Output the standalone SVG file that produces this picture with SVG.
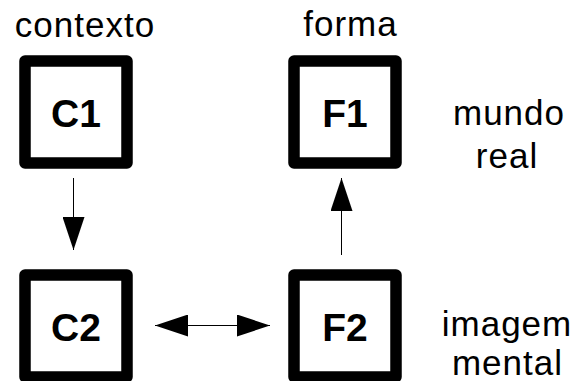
<svg xmlns="http://www.w3.org/2000/svg" width="577" height="381" viewBox="0 0 577 381">
<style>
.box{fill:#fff;stroke:#000;stroke-width:11.5;stroke-linejoin:round}
.nl{font-family:"Liberation Sans",Arial,sans-serif;font-weight:bold;font-size:39px;text-anchor:middle;fill:#000}
.lbl{font-family:"Liberation Sans",Arial,sans-serif;font-size:35px;letter-spacing:1px;text-anchor:middle;fill:#000}
.con{stroke:#000;stroke-width:1;fill:none}
</style>
<defs>
<marker id="ah" markerUnits="userSpaceOnUse" markerWidth="34" markerHeight="22" refX="33" refY="11" orient="auto-start-reverse" viewBox="0 0 33 22">
<path d="M0,0 L33,11 L0,22 Z" fill="#000"/>
</marker>
</defs>
<g id="labels">
<text class="lbl" x="85" y="36.5">contexto</text>
<text class="lbl" x="350.5" y="36">forma</text>
<text class="lbl" x="509" y="125">mundo</text>
<text class="lbl" x="507" y="168">real</text>
<text class="lbl" x="507" y="336">imagem</text>
<text class="lbl" x="507.5" y="375">mental</text>
</g>
<g id="C1"><rect class="box" x="25" y="61" width="102" height="102"/><text class="nl" x="76" y="127">C1</text></g>
<g id="F1"><rect class="box" x="294" y="61" width="102" height="102"/><text class="nl" x="345" y="127">F1</text></g>
<g id="C2"><rect class="box" x="25" y="275" width="102" height="102"/><text class="nl" x="76" y="341">C2</text></g>
<g id="F2"><rect class="box" x="294" y="275" width="102" height="102"/><text class="nl" x="345" y="341">F2</text></g>
<g id="connectors">
<line class="con" x1="73.5" y1="178" x2="73.5" y2="250" marker-end="url(#ah)"/>
<line class="con" x1="341.5" y1="255" x2="341.5" y2="178" marker-end="url(#ah)"/>
<line class="con" x1="155" y1="325.5" x2="270" y2="325.5" marker-start="url(#ah)" marker-end="url(#ah)"/>
</g>
</svg>
